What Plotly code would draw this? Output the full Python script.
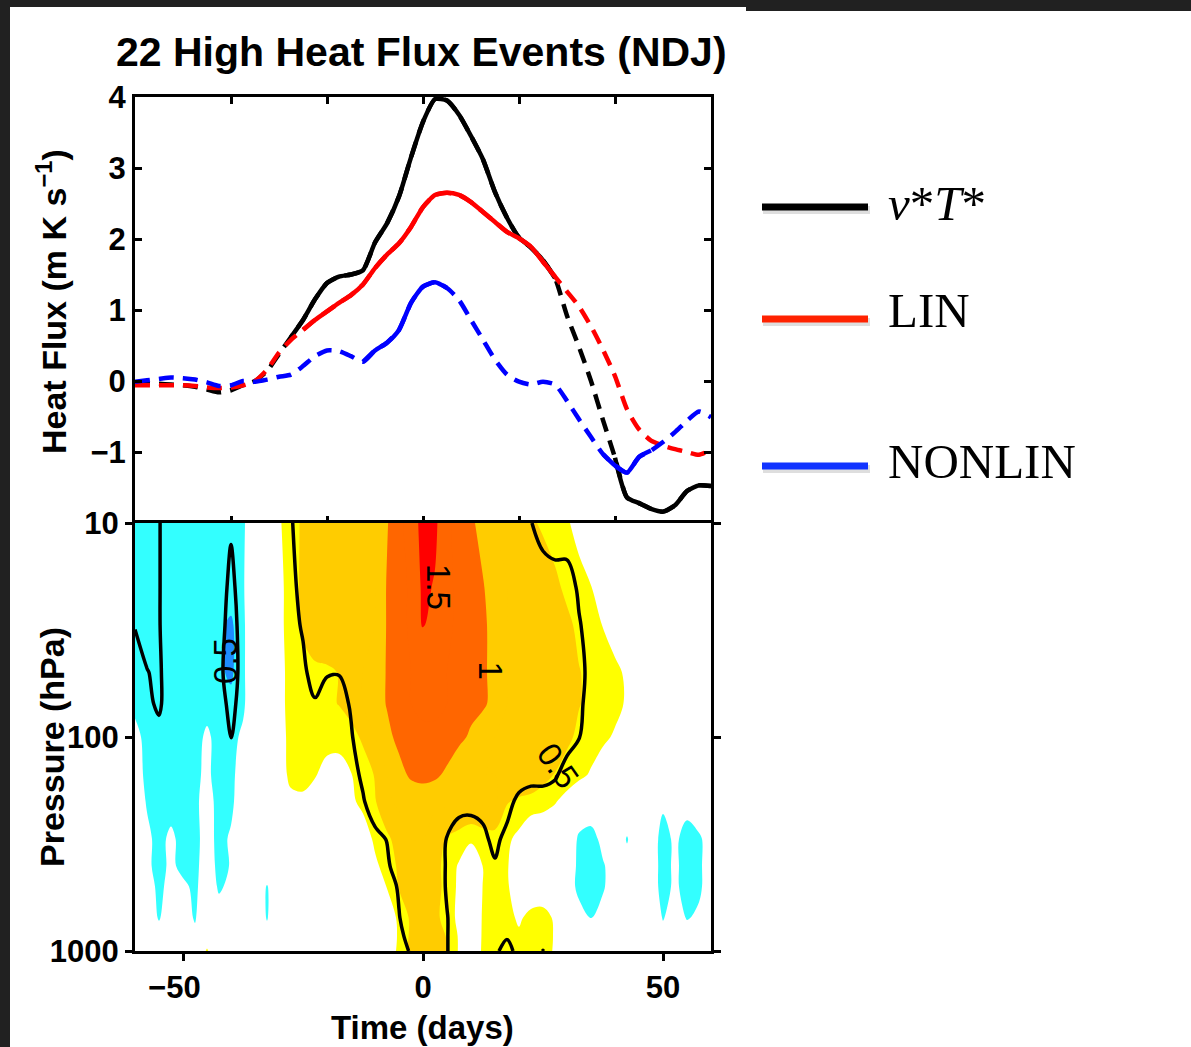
import math
import plotly.graph_objects as go

# ---------------------------------------------------------------- data ----
# composite time axis (days relative to event peak)
days = [-60 + 2.5 * k for k in range(49)]

# area-mean eddy heat flux and its two components (m K s^-1)
vT = [-0.02, -0.03, -0.04, -0.05, -0.06, -0.08, -0.12, -0.16, -0.13, -0.06,
      0.00, 0.14, 0.38, 0.62, 0.86, 1.15, 1.38, 1.47, 1.50, 1.56,
      1.95, 2.22, 2.60, 3.15, 3.65, 3.97, 3.95, 3.75, 3.45, 3.12,
      2.66, 2.30, 2.02, 1.88, 1.70, 1.45, 0.92, 0.48, 0.00, -0.55,
      -1.08, -1.64, -1.72, -1.80, -1.84, -1.75, -1.55, -1.47, -1.48]
lin = [-0.06, -0.06, -0.06, -0.06, -0.06, -0.07, -0.09, -0.10, -0.09, -0.06,
       0.00, 0.16, 0.40, 0.58, 0.72, 0.86, 0.98, 1.10, 1.21, 1.36,
       1.59, 1.78, 1.94, 2.17, 2.45, 2.62, 2.65, 2.62, 2.52, 2.38,
       2.24, 2.10, 2.01, 1.89, 1.68, 1.47, 1.26, 1.05, 0.77, 0.44,
       0.07, -0.40, -0.68, -0.84, -0.91, -0.96, -1.00, -1.04, -0.97]
nonlin = [-0.01, 0.01, 0.03, 0.05, 0.04, 0.02, -0.02, -0.07, -0.06, 0.00,
          -0.01, 0.02, 0.06, 0.09, 0.21, 0.35, 0.43, 0.42, 0.35, 0.27,
          0.43, 0.54, 0.72, 1.10, 1.33, 1.39, 1.31, 1.14, 0.86, 0.58,
          0.30, 0.09, -0.01, -0.05, -0.01, -0.05, -0.28, -0.54, -0.79, -1.03,
          -1.19, -1.29, -1.07, -0.98, -0.86, -0.72, -0.56, -0.43, -0.51]

# time windows where each curve is statistically significant (solid lines)
vT_signif = [(-27.5, 27.5), (40, 60)]
lin_signif = [(-25, 27.5)]
nonlin_signif = [(-12.5, 5), (37.5, 47.5)]

# pressure levels (hPa) of the time-height composite
pressure_hpa = [10, 20, 30, 50, 70, 100, 150, 200, 300, 400, 500, 700, 850, 1000]

# shaded heat-flux anomaly, one row per pressure level
shade_p10 = ([-0.35] * 9 + [-0.30, 0.0, 0.05, 0.20, 0.45, 0.52] + [0.75] * 6 +
             [0.98, 1.20, 1.35, 1.60, 1.55, 1.30, 1.15, 1.05, 0.90] + [0.75] * 3 +
             [0.55, 0.45, 0.40, 0.30, 0.10] + [0.0] * 11)
shade_p20 = ([-0.35] * 9 + [-0.28, 0.0, 0.05, 0.15, 0.40, 0.55] + [0.75] * 6 +
             [1.02, 1.15, 1.30, 1.55, 1.48, 1.30, 1.20, 1.10, 1.02, 0.85] + [0.75] * 3 +
             [0.70, 0.55, 0.45, 0.40, 0.26, 0.10] + [0.0] * 9)
shade_p30 = ([-0.35] * 7 + [-0.45, -0.55, -0.30, 0.0, 0.05, 0.15, 0.40, 0.55] + [0.75] * 6 +
             [1.02, 1.15, 1.30, 1.52, 1.40, 1.30, 1.20, 1.10, 1.05, 0.90] + [0.75] * 4 +
             [0.70, 0.55, 0.45, 0.35, 0.24, 0.10] + [0.0] * 8)
shade_p50 = ([-0.35] * 7 + [-0.45, -0.55, -0.30, 0.0, 0.05, 0.15, 0.35, 0.40, 0.42, 0.45,
                            0.51, 0.62, 0.75, 0.85] +
             [1.02, 1.15, 1.25, 1.30, 1.30, 1.25, 1.15, 1.10, 1.05, 0.90] + [0.75] * 4 +
             [0.70, 0.60, 0.51, 0.45, 0.40, 0.32, 0.20] + [0.0] * 7)
shade_p70 = ([-0.33] + [-0.35] * 7 + [-0.42, -0.30, 0.0, 0.05, 0.18, 0.32, 0.38, 0.42, 0.45,
                                      0.51, 0.62, 0.75, 0.85] +
             [1.02, 1.15, 1.25, 1.30, 1.30, 1.25, 1.15, 1.10, 1.05, 0.90] + [0.75] * 4 +
             [0.70, 0.60, 0.51, 0.45, 0.40, 0.32, 0.22] + [0.0] * 7)
shade_p100 = ([-0.15] + [-0.35] * 5 + [-0.20, -0.35, -0.33, -0.20,
                                       0.0, 0.05, 0.15, 0.32, 0.38, 0.40, 0.35, 0.33, 0.40, 0.55, 0.75] +
              [0.92, 1.08, 1.15, 1.20, 1.20, 1.15, 1.08, 0.95, 0.80] + [0.75] * 4 +
              [0.70, 0.62, 0.55, 0.45, 0.38, 0.30, 0.22, 0.10] + [0.0] * 7)
shade_p150 = ([-0.15, -0.30] + [-0.35] * 3 + [-0.30, -0.20, -0.35, -0.30, -0.15] +
              [0.0, 0.05, 0.15, 0.30, 0.30, 0.27, 0.15, 0.15, 0.24, 0.35, 0.52,
               0.75, 0.90, 1.05, 1.10, 1.05, 0.95] + [0.75] * 7 +
              [0.60, 0.49, 0.40, 0.32, 0.22, 0.10] + [0.0] * 9)
shade_p200 = ([-0.10, -0.27] + [-0.35] * 3 + [-0.30, -0.15, -0.33, -0.30, -0.10] +
              [0.0, 0.0, 0.05, 0.20, 0.22, 0.12, 0.05, 0.08, 0.20, 0.32, 0.48, 0.70] + [0.80] * 9 +
              [0.52, 0.45, 0.40, 0.35, 0.27, 0.15] +
              [0.0] * 7 + [-0.20, 0.0, -0.15, 0.0, 0.0])
shade_p300 = ([-0.10, -0.20, -0.32, -0.20, -0.33, -0.32, -0.15, -0.32, -0.22] + [0.0] * 10 +
              [0.10, 0.30, 0.45, 0.60, 0.75, 0.75, 0.62, 0.48, 0.40, 0.30, 0.38, 0.40, 0.30, 0.18] +
              [0.0] * 4 +
              [-0.30, -0.38, -0.15, -0.05, -0.27, -0.05, -0.10, -0.35, -0.20, -0.35, -0.30, -0.10])
shade_p400 = ([-0.05, -0.20, -0.33, -0.20, -0.32, -0.30, -0.15, -0.30, -0.24] + [0.0] * 10 +
              [0.05, 0.20, 0.35, 0.55, 0.75, 0.75, 0.60, 0.40, 0.22, 0.0, 0.26, 0.40, 0.27, 0.10] +
              [0.0] * 3 +
              [-0.10, -0.30, -0.35, -0.28, -0.10, -0.15, -0.05, -0.10, -0.35, -0.20, -0.35, -0.30, -0.10])
shade_p500 = ([-0.05, -0.15, -0.30, -0.18, -0.20, -0.30, -0.10, -0.28, -0.20, 0.0, 0.0, -0.27] +
              [0.0] * 8 +
              [0.10, 0.26, 0.52, 0.70, 0.75, 0.62, 0.40, 0.20, 0.0, 0.26, 0.40, 0.28, 0.10] +
              [0.0] * 3 +
              [-0.10, -0.32, -0.35, -0.28, -0.10, -0.05, -0.05, -0.10, -0.35, -0.20, -0.35, -0.30, -0.10])
shade_p700 = ([0.0, -0.10, -0.27, -0.10, -0.15, -0.27, -0.05, -0.15, -0.10, 0.0, 0.0, -0.27] +
              [0.0] * 9 +
              [0.10, 0.30, 0.55, 0.70, 0.60, 0.35, 0.20, 0.0, 0.28, 0.40, 0.35, 0.20, 0.35, 0.38,
               0.20, 0.0, -0.15, -0.26, -0.15] +
              [0.0] * 4 + [-0.27, -0.10, -0.27, -0.20, 0.0])
shade_p850 = ([0.0, 0.0, -0.15, 0.0, 0.0, -0.20, 0.10] + [0.0] * 4 + [-0.15] + [0.0] * 10 +
              [0.30, 0.55, 0.70, 0.65, 0.48, 0.22, 0.05, 0.28, 0.38, 0.40, 0.30, 0.38, 0.40, 0.22] +
              [0.0] * 8 + [-0.15, 0.0, -0.10, 0.0, 0.0])
shade_p1000 = ([0.0] * 6 + [0.28] + [0.0] * 14 +
               [0.10, 0.30, 0.60, 0.75, 0.70, 0.52, 0.22, 0.10, 0.28, 0.40, 0.40, 0.40, 0.40, 0.35, 0.22] +
               [0.0] * 13)

# contoured (black line) field, same grid
line_p10 = ([-0.70, -0.70, -0.52, -0.30] + [-0.30] * 4 + [-0.45, -0.30] +
            [0.20, 0.20, 0.20, 0.45] + [0.80] * 19 + [0.52, 0.27] + [0.10] * 14)
line_p20 = ([-0.70, -0.70, -0.52] + [-0.30] * 5 + [-0.60, -0.30] +
            [0.0, 0.10, 0.20, 0.40, 0.62] + [0.80] * 22 + [0.40, 0.20] + [0.10] * 10)
line_p30 = ([-0.52, -0.70, -0.52] + [-0.30] * 4 + [-0.35, -0.65, -0.35] +
            [0.0, 0.10, 0.20, 0.35, 0.55] + [0.80] * 22 + [0.55, 0.25] + [0.10] * 10)
line_p50 = ([-0.30, -0.48, -0.60, -0.10] + [-0.20] * 3 + [-0.40, -0.70, -0.35] +
            [0.0, 0.10, 0.20, 0.30, 0.40, 0.70, 0.55, 0.52, 0.65] + [0.80] * 18 +
            [0.70, 0.30] + [0.10] * 10)
line_p70 = ([-0.30, -0.40, -0.58, -0.20] + [-0.20] * 3 + [-0.35, -0.60, -0.35] +
            [0.0, 0.10, 0.20, 0.25, 0.30, 0.45, 0.20, 0.30, 0.55] + [0.80] * 18 +
            [0.60, 0.30] + [0.10] * 10)
line_p100 = ([-0.20, -0.25, -0.35] + [-0.20] * 4 + [-0.30, -0.52, -0.30] +
             [0.0, 0.10] + [0.20] * 6 + [0.45] + [0.80] * 18 + [0.52, 0.25] + [0.10] * 10)
line_p150 = ([-0.10] + [-0.20] * 7 + [-0.30, -0.10] + [0.10] * 8 + [0.30, 0.60] + [0.80] * 15 +
             [0.60, 0.20] + [0.10] * 12)
line_p200 = ([-0.10] + [-0.20] * 8 + [0.0] + [0.10] * 9 + [0.45] + [0.80] * 7 + [0.65] * 3 +
             [0.80, 0.70, 0.35] + [0.10] * 16)
line_p300 = ([0.0] + [-0.10] * 8 + [0.10] * 11 + [0.35, 0.52] + [0.80] * 3 +
             [0.70, 0.48, 0.30, 0.25, 0.40, 0.62, 0.35, 0.20] + [0.10] * 16)
line_p400 = ([0.10] * 20 + [0.20, 0.40] + [0.80] * 4 + [0.45, 0.30, 0.25, 0.35, 0.45, 0.30] +
             [0.10] * 17)
line_p500 = [0.10] * 21 + [0.30, 0.55] + [0.80] * 3 + [0.45, 0.25] + [0.10] * 21
line_p700 = [0.10] * 22 + [0.48, 0.75, 0.80, 0.80, 0.52, 0.25] + [0.10] * 21
line_p850 = ([0.10] * 22 + [0.40, 0.65, 0.80, 0.80, 0.52, 0.25] + [0.10] * 3 + [0.47] +
             [0.10] * 17)
line_p1000 = ([0.10] * 22 + [0.30, 0.55, 0.80, 0.80, 0.52, 0.25, 0.10, 0.10, 0.45, 0.60, 0.40,
                             0.10, 0.52] + [0.10] * 14)

# contour labels: (text, day, pressure hPa, angle)
contour_labels = [("1.5", 3.2, 20, 90), ("1", 14.0, 49, 90),
                  ("0.5", -41.0, 44, -90), ("0.5", 28.1, 136, 55)]

legend_names = ["<i>v</i>*<i>T</i>*", "LIN", "NONLIN"]

# ------------------------------------------------------------- styling ----
W, H = 1191, 1047
SANS = "Liberation Sans, Arial, Helvetica, sans-serif"
SERIF = "Liberation Serif, Times New Roman, serif"
DASH = "15px,9px"
X0, X1 = 135, 711          # plot area (px)
Y_TOP, Y_MID, Y_BOT = 97, 523, 951
FIG_SP = "\u2007"          # figure space: keeps the minus sign left of the tick


def px_x(p):
    return p / W


def px_y(p):
    return 1 - p / H


def in_windows(t, windows):
    return any(a <= t <= b for a, b in windows)


fig = go.Figure()

# --- upper panel: heat flux time series
series = [(vT, "#000000", vT_signif),
          (lin, "#ff0000", lin_signif),
          (nonlin, "#0000ff", nonlin_signif)]
for vals, color, windows in series:
    fig.add_trace(go.Scatter(
        x=days, y=vals, mode="lines", xaxis="x", yaxis="y",
        line=dict(color=color, width=4.5, dash=DASH, shape="spline", smoothing=0.6),
        showlegend=False, hoverinfo="skip"))
    solid = [v if in_windows(t, windows) else None for t, v in zip(days, vals)]
    fig.add_trace(go.Scatter(
        x=days, y=solid, mode="lines", xaxis="x", yaxis="y", connectgaps=False,
        line=dict(color=color, width=4.5, shape="spline", smoothing=0.6),
        showlegend=False, hoverinfo="skip"))

# --- lower panel: time-pressure composite
shade_grid = [shade_p10, shade_p20, shade_p30, shade_p50, shade_p70, shade_p100, shade_p150,
              shade_p200, shade_p300, shade_p400, shade_p500, shade_p700, shade_p850, shade_p1000]
line_grid = [line_p10, line_p20, line_p30, line_p50, line_p70, line_p100, line_p150,
             line_p200, line_p300, line_p400, line_p500, line_p700, line_p850, line_p1000]

# band colours for levels -0.75 ... 1.5 every 0.25 (11 bands)
band_colors = ["#1e8cff", "#1e8cff", "#33ffff", "#ffffff", "#ffffff", "#ffff00",
               "#ffcc00", "#ffcc00", "#ff6600", "#ff6600", "#ff0000"]
nb = len(band_colors) - 1
step_scale = []
for j, c in enumerate(band_colors):
    lo = max(0.0, (j - 0.5) / nb)
    hi = min(1.0, (j + 0.5) / nb)
    step_scale += [[lo, c], [hi, c]]

fig.add_trace(go.Contour(
    x=days, y=pressure_hpa, z=shade_grid, xaxis="x2", yaxis="y2",
    autocontour=False,
    contours=dict(start=-0.75, end=1.5, size=0.25, coloring="fill", showlines=False),
    colorscale=step_scale, showscale=False,
    line=dict(width=0, smoothing=1.0), hoverinfo="skip"))

fig.add_trace(go.Contour(
    x=days, y=pressure_hpa, z=line_grid, xaxis="x2", yaxis="y2",
    autocontour=False,
    contours=dict(start=-0.5, end=0.5, size=1.0, coloring="none"),
    line=dict(color="black", width=3.5, smoothing=1.0),
    showscale=False, hoverinfo="skip"))

annotations = []
for text, t, p, ang in contour_labels:
    annotations.append(dict(
        x=t, y=math.log10(p), xref="x2", yref="y2", text=text, showarrow=False,
        textangle=ang, font=dict(family=SANS, size=33, color="black")))

# axis titles and panel title
bold = dict(family=SANS, color="black", weight="bold")
annotations += [
    dict(x=px_x(52), y=px_y(302), xref="paper", yref="paper", showarrow=False,
         xanchor="center", yanchor="middle",
         text="Heat Flux (m K s<sup>−1</sup>)", textangle=-90, font=dict(size=34, **bold)),
    dict(x=px_x(52), y=px_y(747), xref="paper", yref="paper", showarrow=False,
         xanchor="center", yanchor="middle",
         text="Pressure (hPa)", textangle=-90, font=dict(size=34, **bold)),
    dict(x=px_x(422), y=px_y(1027), xref="paper", yref="paper", showarrow=False,
         xanchor="center", yanchor="middle",
         text="Time (days)", font=dict(size=33, **bold)),
    dict(x=px_x(421), y=px_y(52), xref="paper", yref="paper", showarrow=False,
         xanchor="center", yanchor="middle",
         text="22 High Heat Flux Events (NDJ)", font=dict(size=41, **bold)),
]

# legend (to the right of the panels), each key line with a soft drop shadow
legend_rows = [(207, "#000000", 203), (319, "#ff2200", 310), (466, "#1133ff", 461)]
shapes = []
for (ly, lc, ty), name in zip(legend_rows, legend_names):
    shapes.append(dict(type="line", xref="paper", yref="paper",
                       x0=px_x(763), x1=px_x(870), y0=px_y(ly + 3), y1=px_y(ly + 3),
                       line=dict(color="rgba(0,0,0,0.13)", width=8)))
    shapes.append(dict(type="line", xref="paper", yref="paper",
                       x0=px_x(762), x1=px_x(868), y0=px_y(ly), y1=px_y(ly),
                       line=dict(color=lc, width=7)))
    annotations.append(dict(x=px_x(886), y=px_y(ty), xref="paper", yref="paper",
                            xanchor="left", yanchor="middle", showarrow=False, text=name,
                            font=dict(family=SERIF, size=49, color="black")))

# dark frame around the page edge
dark = "#212121"
shapes += [
    dict(type="rect", xref="paper", yref="paper", x0=0, x1=px_x(10), y0=0, y1=1,
         fillcolor=dark, line=dict(width=0), layer="above"),
    dict(type="rect", xref="paper", yref="paper", x0=0, x1=1, y0=px_y(7), y1=1,
         fillcolor=dark, line=dict(width=0), layer="above"),
    dict(type="rect", xref="paper", yref="paper", x0=px_x(746), x1=1, y0=px_y(11), y1=1,
         fillcolor=dark, line=dict(width=0), layer="above"),
]

tickfont = dict(family=SANS, size=31, color="black", weight="bold")
common = dict(showline=True, linewidth=3, linecolor="black", showgrid=False, zeroline=False,
              tickwidth=3, tickcolor="black", tickfont=tickfont, automargin=False)

fig.update_layout(
    template="none",
    width=W, height=H, autosize=False,
    margin=dict(l=0, r=0, t=0, b=0, pad=0, autoexpand=False),
    paper_bgcolor="white", plot_bgcolor="white", showlegend=False,
    xaxis=dict(domain=[px_x(X0), px_x(X1)], anchor="y", range=[-60, 60],
               tickvals=[-40, -20, 0, 20, 40], showticklabels=False,
               ticks="inside", ticklen=7, mirror="ticks", **common),
    yaxis=dict(domain=[px_y(Y_MID), px_y(Y_TOP)], anchor="x", range=[-2, 4],
               tickvals=[-1, 0, 1, 2, 3, 4], ticktext=["−1", "0", "1", "2", "3", "4"],
               ticks="inside", ticklen=7, mirror="ticks", **common),
    xaxis2=dict(domain=[px_x(X0), px_x(X1)], anchor="y2", range=[-60, 60],
                tickvals=[-50, 0, 50], ticktext=["−50" + FIG_SP, "0", "50"],
                ticks="outside", ticklen=7, mirror=True, **common),
    yaxis2=dict(domain=[px_y(Y_BOT), px_y(Y_MID)], anchor="x2", type="log", range=[3, 1],
                tickvals=[10, 100, 1000], ticktext=["10", "100", "1000"],
                ticks="outside", ticklen=7, mirror="ticks", **common),
    annotations=annotations, shapes=shapes,
)

fig.write_html("out.html")
